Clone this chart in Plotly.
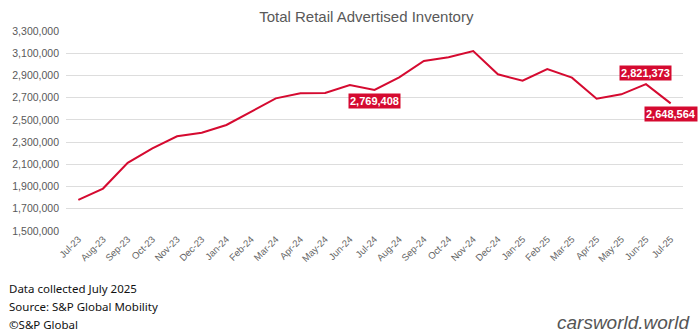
import plotly.graph_objects as go

months = ["Jul-23", "Aug-23", "Sep-23", "Oct-23", "Nov-23", "Dec-23", "Jan-24", "Feb-24",
          "Mar-24", "Apr-24", "May-24", "Jun-24", "Jul-24", "Aug-24", "Sep-24", "Oct-24",
          "Nov-24", "Dec-24", "Jan-25", "Feb-25", "Mar-25", "Apr-25", "May-25", "Jun-25", "Jul-25"]
inventory = [1780000, 1882000, 2114000, 2244000, 2352000, 2385000, 2454000, 2574000,
             2694000, 2739000, 2742000, 2814000, 2769408, 2883000, 3030000, 3063000,
             3120000, 2910000, 2853000, 2958000, 2880000, 2690000, 2730000, 2821373, 2648564]
labeled = {"Jul-24": -11, "Jun-25": 11, "Jul-25": -11}

tick_vals = list(range(1500000, 3300001, 200000))
tick_text = [f"{v:,}" for v in tick_vals]

RED = "#D50A30"
L, R, T, B = 63, 16, 31, 105
W, H = 699, 336
PW, PH = W - L - R, H - T - B


def px_x(p):
    return (p - L) / PW


def px_y(p):
    return 1 - (p - T) / PH


fig = go.Figure()
fig.add_trace(go.Scatter(x=months, y=inventory, mode="lines",
                         line=dict(color=RED, width=2), hoverinfo="skip"))

for m, shift in labeled.items():
    v = inventory[months.index(m)]
    fig.add_annotation(x=m, y=v, xref="x", yref="y", text=f"<b>{v:,}</b>",
                       showarrow=False, yshift=shift, bgcolor=RED, borderpad=1,
                       font=dict(color="white", size=11, family="Liberation Sans"))

fig.update_layout(
    width=W, height=H,
    margin=dict(l=L, r=R, t=T, b=B),
    paper_bgcolor="white", plot_bgcolor="white",
    showlegend=False,
    title=dict(text="Total Retail Advertised Inventory", x=0.524, xanchor="center",
               y=1 - 17 / H, yanchor="middle",
               font=dict(family="Liberation Sans", size=15, color="#595959")),
    xaxis=dict(type="category", tickangle=-45, showgrid=False, showline=False,
               ticks="", tickfont=dict(family="Liberation Sans", size=9.5, color="#666666"),
               range=[-0.5, len(months) - 0.5]),
    yaxis=dict(range=[1500000, 3300000], tickvals=tick_vals, ticktext=tick_text,
               showgrid=True, gridcolor="#DDDDDD", gridwidth=1, zeroline=False,
               showline=False, ticks="", ticklabelstandoff=6,
               tickfont=dict(family="Liberation Sans", size=10.5, color="#595959")),
)

notes = ["Data collected July 2025", "Source: S&P Global Mobility", "©S&P Global"]
for i, t in enumerate(notes):
    fig.add_annotation(x=px_x(4), y=px_y(288 + 18 * i), xref="paper", yref="paper", text=t,
                       showarrow=False, xanchor="left", yanchor="middle",
                       font=dict(family="Noto Sans", size=11.5, color="#111111"))

fig.add_annotation(x=px_x(692), y=px_y(322), xref="paper", yref="paper",
                   text="<i>carsworld.world</i>", showarrow=False, xanchor="right",
                   yanchor="middle",
                   font=dict(family="Liberation Sans", size=19, color="#555555",
                             style="italic"))

fig.write_html("out.html")
